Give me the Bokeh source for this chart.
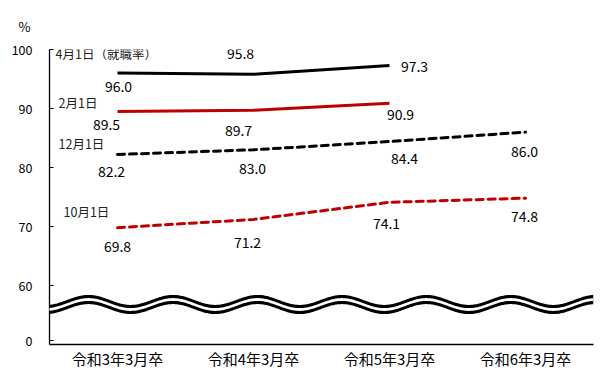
import numpy as np
from bokeh.plotting import figure
from bokeh.models import ColumnDataSource, PolyAnnotation, FixedTicker
from bokeh.core.properties import value
from bokeh.embed import file_html
from bokeh.resources import INLINE

# ---- data ----
categories = ["令和3年3月卒", "令和4年3月卒", "令和5年3月卒", "令和6年3月卒"]
series_names = ["4月1日（就職率）", "2月1日", "12月1日", "10月1日"]
apr1 = [96.0, 95.8, 97.3]
feb1 = [89.5, 89.7, 90.9]
dec1 = [82.2, 83.0, 84.4, 86.0]
oct1 = [69.8, 71.2, 74.1, 74.8]
y_tick_values = [60, 70, 80, 90, 100]
y_tick_labels = ["60", "70", "80", "90", "100"]
zero_label = "0"
unit_label = "%"

# ---- styles / placement (screen-pixel offsets) ----
FONT = "Noto Sans CJK JP"
RED = "#C00000"
series_data = [apr1, feb1, dec1, oct1]
series_color = ["black", RED, "black", RED]
series_dash = ["solid", "solid", "7 5", "7 5"]
value_dx = [[1, -13, 25], [-11, -15, 11], [-6, -1, 15, -1], [0, -6, -3, -1]]
value_dy = [[13.5, -21, 1], [13, 20, 11], [17, 19, 17, 19], [19, 23, 21, 18.5]]
name_dx = [-62, -59, -59, -54]
name_dy = [-19.5, -9, -11, -16]

Y0 = 50  # bottom of the broken axis (drawn as "0")
ppu = 5.9            # pixels per unit on y
px_per_x = 136.0     # pixels per category

p = figure(frame_width=544, frame_height=295, output_backend="svg", toolbar_location=None,
           x_range=(-0.5, 3.5), y_range=(Y0, 100), title=unit_label,
           min_border_left=49, min_border_right=8, min_border_top=49, min_border_bottom=20)
p.background_fill_color = "white"
p.border_fill_color = "white"
p.outline_line_color = None
p.grid.visible = False
p.title.align = "left"
p.title.offset = -31
p.title.standoff = 27
p.title.text_font = FONT
p.title.text_font_size = "13px"
p.title.text_font_style = "normal"
p.title.text_color = "black"

for vals, col, dash in zip(series_data, series_color, series_dash):
    xs = list(range(len(vals)))
    p.line(xs, vals, line_color=col, line_width=3, line_dash=dash,
           line_cap="round" if dash != "solid" else "butt")

# value labels
vx, vy, vt, vdx, vdy = [], [], [], [], []
for vals, dxs, dys in zip(series_data, value_dx, value_dy):
    for i, v in enumerate(vals):
        vx.append(i); vy.append(v); vt.append(f"{v:.1f}")
        vdx.append(dxs[i]); vdy.append(dys[i])
vsrc = ColumnDataSource(dict(x=vx, y=vy, text=vt, dx=vdx, dy=vdy))
p.text(x="x", y="y", text="text", x_offset="dx", y_offset="dy", source=vsrc,
       text_font=value(FONT), text_font_size="14px", text_color="black",
       text_align="center", text_baseline="middle")

# series name labels
nsrc = ColumnDataSource(dict(x=[0] * 4, y=[s[0] for s in series_data], text=series_names,
                             dx=name_dx, dy=name_dy))
p.text(x="x", y="y", text="text", x_offset="dx", y_offset="dy", source=nsrc,
       text_font=value(FONT), text_font_size="12.5px", text_color="#222222",
       text_align="left", text_baseline="middle")

# axes
ya = p.yaxis[0]
ya.ticker = FixedTicker(ticks=[Y0 + 0.6] + y_tick_values)
ya.major_label_overrides = {Y0 + 0.6: zero_label, **{t: l for t, l in zip(y_tick_values, y_tick_labels)}}
ya.major_tick_in = 4
ya.major_tick_out = 0
ya.minor_tick_line_color = None
ya.major_label_standoff = 17
ya.major_label_text_font = FONT
ya.major_label_text_font_size = "12.5px"
ya.major_label_text_color = "black"
ya.axis_line_color = "black"
ya.axis_line_width = 1.3

xa = p.xaxis[0]
xa.ticker = FixedTicker(ticks=list(range(len(categories))))
xa.major_label_overrides = {i: c for i, c in enumerate(categories)}
xa.major_tick_in = 0
xa.major_tick_out = 0
xa.minor_tick_line_color = None
xa.major_label_standoff = 3
xa.major_label_text_font = FONT
xa.major_label_text_font_size = "15px"
xa.major_label_text_color = "black"
xa.axis_line_color = "black"
xa.axis_line_width = 1.3

# axis-break wave (decoration)
wx = np.linspace(-0.5 - 13 / px_per_x, 3.5, 600)
period = 84.5 / px_per_x
phase = (90 - 119) / px_per_x
amp = 5 / ppu
wave = amp * np.cos(2 * np.pi * (wx - phase) / period)
c_up = Y0 + (345 - 302) / ppu
c_lo = Y0 + (345 - 308) / ppu
half = 1.6 / ppu
black_top = c_up + half + wave
black_bot = c_lo - half + wave
white_top = c_up - half + wave
white_bot = c_lo + half + wave
p.add_layout(PolyAnnotation(xs=list(wx) + list(wx[::-1]), ys=list(black_top) + list(black_bot[::-1]),
                            fill_color="black", fill_alpha=1, line_color=None))
p.add_layout(PolyAnnotation(xs=list(wx) + list(wx[::-1]), ys=list(white_top) + list(white_bot[::-1]),
                            fill_color="white", fill_alpha=1, line_color=None))

open("out.html", "w").write(file_html(p, INLINE))
